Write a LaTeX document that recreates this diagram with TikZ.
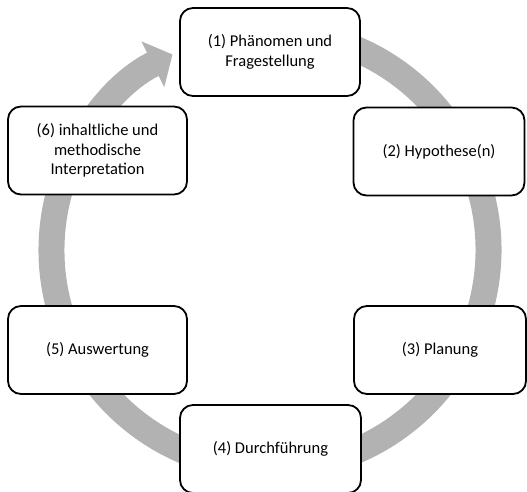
\documentclass[tikz,border=0pt]{standalone}
\usepackage{fontspec}
\setmainfont{Carlito}
\usetikzlibrary{arrows.meta}

\begin{document}
\begin{tikzpicture}[x=1pt,y=1pt,
  stepbox/.style={draw, line width=1.8pt, rounded corners=13pt, fill=white,
    align=center, inner sep=0pt, minimum height=88pt,
    font=\fontsize{16.5}{19.5}\selectfont}]

\useasboundingbox (0,0) rectangle (527,492);

% grey cycle ring with arrow head
\draw[black!30, line width=26pt, -{Triangle[length=22pt,width=50pt]}]
  (270,242) ++(80:218.5) arc[start angle=80, end angle=-243.5, radius=218.5];

% the six steps
\node[stepbox, minimum width=180pt] (phaen) at (270,440) {(1) Phänomen und\\Fragestellung};
\node[stepbox, minimum width=171pt] (hypo) at (439,340.5) {(2) Hypothese(n)};
\node[stepbox, minimum width=172pt] (plan) at (440,142) {(3) Planung};
\node[stepbox, minimum width=181pt] (durch) at (270.5,43) {(4) Durchführung};
\node[stepbox, minimum width=179pt] (ausw) at (97.5,142) {(5) Auswertung};
\node[stepbox, minimum width=179pt] (interp) at (97.5,341.5) {(6) inhaltliche und\\methodische\\Interpretation};

\end{tikzpicture}
\end{document}
